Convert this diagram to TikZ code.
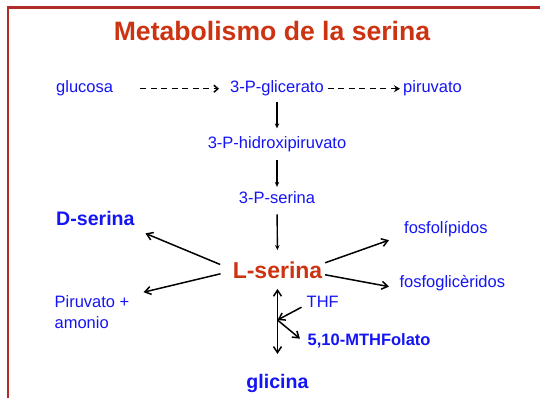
\documentclass[tikz,border=0pt]{standalone}
\usepackage{fontspec}
\setmainfont{Liberation Sans}
\usetikzlibrary{arrows.meta}
\definecolor{FrameRed}{HTML}{B22A2A}
\definecolor{SerRed}{HTML}{CC3311}
\definecolor{PathBlue}{HTML}{1414F5}
\tikzset{
  lbl/.style={inner sep=0pt,text=PathBlue,font=\fontsize{16.5}{21}\selectfont},
  blbl/.style={inner sep=0pt,text=PathBlue,font=\fontsize{19.6}{23}\selectfont\bfseries},
  barb/.tip={Straight Barb[length=6pt,width=8pt]},
  flow/.style={line width=1.5pt,-barb},
  step down/.style={line width=1.4pt,-{Stealth[length=5pt,width=4.5pt]}},
  dasharr/.style={line width=1.5pt,dash pattern=on 6pt off 4.5pt},
}
\begin{document}
\begin{tikzpicture}[x=1pt,y=-1pt]
  \useasboundingbox (0,0) rectangle (540,398);
  \draw[FrameRed,line width=2.6pt] (8,398) -- (8,7.5) -- (540,7.5);
  \node[anchor=base,inner sep=0pt,text=SerRed,font=\fontsize{26.6}{30}\selectfont\bfseries]
    (title) at (272,41) {Metabolismo de la serina};
  % glicolisis
  \node[lbl,anchor=base west] (gluc) at (56,93) {glucosa};
  \node[lbl,anchor=base] (gli) at (277,93) {3-P-glicerato};
  \node[lbl,anchor=base west] (piru) at (403,93) {piruvato};
  \node[lbl,anchor=base] (hid) at (277,148.5) {3-P-hidroxipiruvato};
  \node[lbl,anchor=base] (pser) at (277,203) {3-P-serina};
  \node[anchor=base,inner sep=0pt,text=SerRed,font=\fontsize{23}{26}\selectfont\bfseries]
    (lser) at (277.5,278) {L-serina};
  \node[blbl,anchor=base west] (dser) at (56,225) {D-serina};
  \node[lbl,anchor=north west,align=left] (piram) at (54.4,295.2) {Piruvato +\\amonio};
  \node[lbl,anchor=base west] (fosl) at (404,233.5) {fosfolípidos};
  \node[lbl,anchor=base west] (fosg) at (399.4,287) {fosfoglicèridos};
  \node[lbl,anchor=base west] (thf) at (306.5,307) {THF};
  \node[blbl,anchor=base west,font=\fontsize{16.5}{20}\selectfont\bfseries] (mthf) at (307.5,345) {5,10-MTHFolato};
  \node[blbl,anchor=base] (glic) at (277.5,388) {glicina};
  \coordinate (jn) at (277.5,320);
  % flechas
  \draw[dasharr,-{Straight Barb[length=4pt,width=7pt]}]
    ([xshift=27pt]gluc.east) -- ([xshift=-11pt]gluc.east -| gli.west);
  \draw[dasharr,-{Stealth[length=6pt,width=7pt]}]
    ([xshift=4pt]gli.east) -- ([xshift=-3pt]gli.east -| piru.west);
  \draw[step down,shorten <=5pt,shorten >=8pt] (gli.south) -- (hid.north);
  \draw[step down,shorten <=8pt,shorten >=4pt] (hid.south) -- (pser.north);
  \draw[step down,shorten <=11pt,shorten >=11pt] (pser.south) -- (lser.north);
  \draw[flow] ([shift={(-12.4,-5.3)}]lser.west) -- ([shift={(10.6,15.4)}]dser.east);
  \draw[flow] ([shift={(-12,4)}]lser.west) -- ([shift={(14,-3)}]piram.north east);
  \draw[flow] ([shift={(2.7,-7)}]lser.east) -- ([shift={(-15,11)}]fosl.west);
  \draw[flow] ([shift={(2.7,5)}]lser.east) -- ([shift={(-10.4,4)}]fosg.west);
  \draw[line width=1.5pt,barb-barb,shorten <=10.5pt,shorten >=19.7pt]
    (lser.south) -- (lser.south |- glic.north);
  \draw[flow] ([shift={(-5,0)}]thf.south west) -- (jn);
  \draw[flow] (jn) -- ([shift={(-7.5,-1.6)}]mthf.west);
\end{tikzpicture}
\end{document}
